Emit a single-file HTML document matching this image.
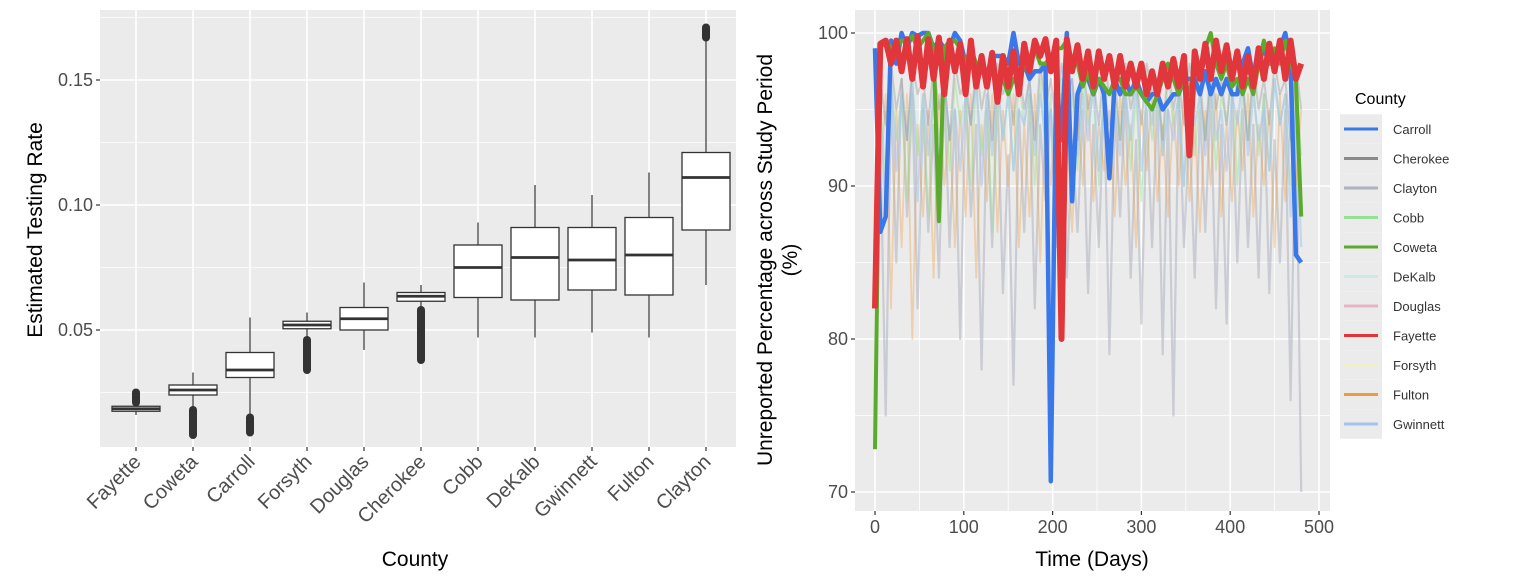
<!DOCTYPE html>
<html><head><meta charset="utf-8"><style>
body{margin:0;background:#fff;}
svg{display:block;font-family:"Liberation Sans",sans-serif;}
</style></head><body>
<svg id="c" width="1522" height="578"></svg>
<script>
// ---------- Left chart data ----------
const counties=["Fayette","Coweta","Carroll","Forsyth","Douglas","Cherokee","Cobb","DeKalb","Gwinnett","Fulton","Clayton"];
const whiskerLo=[0.016,0.019,0.016,0.047,0.042,0.058,0.047,0.047,0.049,0.047,0.068];
const q1=[0.0175,0.024,0.031,0.0505,0.050,0.0615,0.063,0.062,0.066,0.064,0.090];
const median=[0.0185,0.026,0.034,0.052,0.0545,0.0635,0.075,0.079,0.078,0.080,0.111];
const q3=[0.0195,0.028,0.041,0.0535,0.059,0.065,0.084,0.091,0.091,0.095,0.121];
const whiskerHi=[0.021,0.033,0.055,0.057,0.069,0.068,0.093,0.108,0.104,0.113,0.166];
const outLo=[[0.021,0.025],[0.008,0.018],[0.009,0.015],[0.034,0.046],null,[0.038,0.058],null,null,null,null,[0.167,0.171]];
const yTicksL=[0.05,0.10,0.15];
const yTickLabelsL=["0.05","0.10","0.15"];
// ---------- Right chart data ----------
const dayStart=0, dayStep=6, nDays=81;
const fayette=[82,99.3,99.5,98,99.5,97.5,99.6,97,99.8,96.5,99.6,97,99.7,96,99.5,97.5,99.3,96,99.5,96.5,98.5,96.5,98.7,95.5,98.5,96.5,98.8,96,99.3,97.5,99.5,98.5,99.6,97.5,99.5,80,99.6,97.5,99.2,97,98.8,96.5,98.8,97,98.5,96.5,98.5,96.5,98,96.5,98,96,97.5,96,98,96.5,98.3,96.5,98.5,92,98.8,97,99.3,97,99.5,97.5,99.2,97,98.8,96.5,98.5,96.5,99,97,99.3,97.5,99.5,97,99.5,97,98];
const carroll=[99,87,88,99.5,98,100,99,100,99.8,100,100,99,99.5,99,99,100,99.5,98,99,97.5,98,97,98.5,98.5,98.5,98,100,98,98,97,97.5,97.5,98,70.7,97,93,100,89,96,97,97,96,97,96,90.5,97,96,97,96,97,96,95.5,96,96,95,95.5,96,96,97,97,97,96,97.5,96,97,96,97,96,96,98,99,97,98,99,98,98.5,99,100,98,85.5,85];
const coweta=[72.8,99,99.5,99,99,99.5,99.5,99.8,99,99.5,100,99,87.7,99,99.5,99.5,99,98,99,98,97.5,97,98,96.5,97,96,97,96.5,98,98,99,98,98,98.5,99,99,99.5,98,98,96.5,97.5,96,97,96.5,96,97,97,96,96,96.5,96,95.5,95,96,97,98,97,96,97,96,98,97,99,100,98,97,98,96.5,97,96,97,96,98,99.5,98,99,98,99.5,98,97,88];
const clayton=[99,93,75,96,85,97,88,96,82,95,87,94,84,96,86,95,80,96,88,94,78,95,86,96,83,92,77,95,87,96,82,94,89,95,86,96,84,93,87,95,83,94,86,96,79,95,88,96,84,93,81,95,86,96,79,95,75,96,86,94,84,95,87,96,82,94,81,96,85,95,86,94,84,96,83,93,85,95,76,96,70];
const fulton=[99,90,96,82,95,86,96,80,94,88,95,84,96,90,94,86,95,88,96,84,94,89,96,87,95,90,96,86,94,88,96,85,95,90,96,88,94,87,95,90,96,89,94,91,95,88,96,90,94,86,95,91,96,89,94,88,95,90,96,89,94,87,95,90,96,88,94,89,95,91,96,88,94,90,95,86,96,89,94,90,95];
const gwinnett=[99,95,88,97,91,96,93,97,89,96,92,96,90,97,93,95,91,96,94,97,90,96,92,97,93,96,91,95,94,97,92,96,93,95,90,96,94,97,92,96,93,97,91,96,94,95,92,96,93,97,91,96,94,97,92,95,93,96,90,97,94,96,92,97,93,95,91,96,94,97,92,96,93,95,91,97,94,96,88,95,86];
const cherokee=[99,97,94,98,95,97,93,98,96,97,94,98,95,97,93,98,96,97,94,98,95,97,93,98,96,97,94,98,95,97,93,98,95,97,94,98,96,97,93,98,95,97,94,98,96,97,93,98,95,97,94,98,96,97,93,98,95,97,94,98,96,97,93,98,95,97,94,98,96,97,93,98,95,97,94,98,96,97,93,98,95];
const cobb=[99,96,90,97,93,96,89,97,92,96,88,97,93,96,91,97,94,96,90,97,92,96,87,97,93,96,91,97,94,96,90,97,92,96,89,97,93,96,91,97,94,96,90,97,92,96,93,97,91,96,89,97,93,96,92,97,94,96,90,97,92,96,93,97,91,96,94,97,90,96,93,97,92,96,91,97,94,96,90,97,92];
const xTicksR=[0,100,200,300,400,500];
const yTicksR=[70,80,90,100];
const legendNames=["Carroll","Cherokee","Clayton","Cobb","Coweta","DeKalb","Douglas","Fayette","Forsyth","Fulton","Gwinnett"];
const legendColors=["#3a78ea","#8a8a8a","#aeb2c0","#96e096","#5aaa2c","#c6ece6","#e8b4c4","#e0363c","#eef0c6","#ef9a3c","#a4c2f2"];

const NS="http://www.w3.org/2000/svg";
const svg=document.getElementById('c');
function mk(tag,attrs,parent){const e=document.createElementNS(NS,tag);for(const k in attrs)e.setAttribute(k,attrs[k]);(parent||svg).appendChild(e);return e;}

// ---- Left axes ----
const L={x0:100,x1:736,y0:10,y1:447};
const yL=v=>330-(v-0.05)*2500;
const xL=i=>136+i*57;
const gL=mk('g',{});


const bgL=mk('rect',{x:L.x0,y:L.y0,width:L.x1-L.x0,height:L.y1-L.y0,fill:'#ebebeb'},gL);


[0.025,0.075,0.125,0.175].forEach(v=>mk('line',{x1:L.x0,x2:L.x1,y1:yL(v),y2:yL(v),stroke:'#fff','stroke-width':0.8},gL));
yTicksL.forEach((v,i)=>{
  mk('line',{x1:L.x0,x2:L.x1,y1:yL(v),y2:yL(v),stroke:'#fff','stroke-width':1.6},gL);
  mk('line',{x1:L.x0-4,x2:L.x0,y1:yL(v),y2:yL(v),stroke:'#333','stroke-width':1.2},gL);
  const t=mk('text',{x:L.x0-7,y:yL(v)+6,'text-anchor':'end','font-size':18,fill:'#4d4d4d'},gL);
  t.textContent=yTickLabelsL[i];
  
  
});
counties.forEach((c,i)=>{
  const x=xL(i);
  mk('line',{x1:x,x2:x,y1:L.y0,y2:L.y1,stroke:'#fff','stroke-width':1.6},gL);
  mk('line',{x1:x,x2:x,y1:L.y1,y2:L.y1+4,stroke:'#333','stroke-width':1.2},gL);
  const g=mk('g',{},gL);
  
  
  mk('line',{x1:x,x2:x,y1:yL(whiskerLo[i]),y2:yL(whiskerHi[i]),stroke:'#333','stroke-width':1.2},g);
  const w=48;
  mk('rect',{x:x-w/2,y:yL(q3[i]),width:w,height:Math.max(1,yL(q1[i])-yL(q3[i])),fill:'#fff',stroke:'#333','stroke-width':1.3},g);
  mk('line',{x1:x-w/2,x2:x+w/2,y1:yL(median[i]),y2:yL(median[i]),stroke:'#333','stroke-width':2.8},g);
  if(outLo[i]) mk('line',{x1:x,x2:x,y1:yL(outLo[i][0]),y2:yL(outLo[i][1]),stroke:'#333','stroke-width':8,'stroke-linecap':'round'},g);
  const ax=x+6, ay=L.y1+16;
  const t=mk('text',{x:ax,y:ay,'text-anchor':'end','font-size':20,fill:'#4d4d4d',transform:`rotate(-45 ${ax} ${ay})`},gL);
  t.textContent=c;
  
  
});
let t=mk('text',{x:415,y:566,'text-anchor':'middle','font-size':21,fill:'#000'});
t.textContent='County';


t=mk('text',{x:42,y:230,'text-anchor':'middle','font-size':21,fill:'#000',transform:'rotate(-90 42 230)'});
t.textContent='Estimated Testing Rate';



// ---- Right axes ----
const R={x0:855,x1:1330,y0:10,y1:511};
const xR=d=>875+d*0.888;
const yR=v=>33+(100-v)*15.3;
const gR=mk('g',{});


const bgR=mk('rect',{x:R.x0,y:R.y0,width:R.x1-R.x0,height:R.y1-R.y0,fill:'#ebebeb'},gR);


[75,85,95].forEach(v=>mk('line',{x1:R.x0,x2:R.x1,y1:yR(v),y2:yR(v),stroke:'#fff','stroke-width':0.8},gR));
[50,150,250,350,450].forEach(v=>mk('line',{x1:xR(v),x2:xR(v),y1:R.y0,y2:R.y1,stroke:'#fff','stroke-width':0.8},gR));
yTicksR.forEach(v=>{
  mk('line',{x1:R.x0,x2:R.x1,y1:yR(v),y2:yR(v),stroke:'#fff','stroke-width':1.6},gR);
  mk('line',{x1:R.x0-4,x2:R.x0,y1:yR(v),y2:yR(v),stroke:'#333','stroke-width':1.2},gR);
  const tt=mk('text',{x:R.x0-7,y:yR(v)+6,'text-anchor':'end','font-size':18,fill:'#4d4d4d'},gR);
  tt.textContent=String(v);
  
  
});
xTicksR.forEach(v=>{
  mk('line',{x1:xR(v),x2:xR(v),y1:R.y0,y2:R.y1,stroke:'#fff','stroke-width':1.6},gR);
  mk('line',{x1:xR(v),x2:xR(v),y1:R.y1,y2:R.y1+4,stroke:'#333','stroke-width':1.2},gR);
  const tt=mk('text',{x:xR(v),y:R.y1+22,'text-anchor':'middle','font-size':18,fill:'#4d4d4d'},gR);
  tt.textContent=String(v);
  
  
});
function series(vals,color,w,op,name){
  const pts=vals.map((v,i)=>xR(dayStart+i*dayStep).toFixed(1)+','+yR(v).toFixed(1)).join(' ');
  const p=mk('polyline',{points:pts,fill:'none',stroke:color,'stroke-width':w,'stroke-opacity':op,'stroke-linejoin':'round'},gR);
  
  
}
series(clayton,'#aeb2c0',2.2,0.55,'clayton');
series(fulton,'#ef9a3c',1.8,0.35,'fulton');
series(cobb,'#96e096',1.8,0.45,'cobb');
series(gwinnett,'#a4c2f2',2.2,0.55,'gwinnett');
series(cherokee,'#8a8a8a',2,0.35,'cherokee');
series(carroll,'#3a78ea',4.5,1,'carroll');
series(coweta,'#5aaa2c',4,1,'coweta');
series(fayette,'#e0363c',6,1,'fayette');
t=mk('text',{x:1092,y:566,'text-anchor':'middle','font-size':21,fill:'#000'});
t.textContent='Time (Days)';


t=mk('text',{x:772,y:260,'text-anchor':'middle','font-size':21,fill:'#000',transform:'rotate(-90 772 260)'});
t.textContent='Unreported Percentage across Study Period';


t=mk('text',{x:797,y:260,'text-anchor':'middle','font-size':21,fill:'#000',transform:'rotate(-90 797 260)'});
t.textContent='(%)';



// ---- Legend ----
const gLeg=mk('g',{});


t=mk('text',{x:1355,y:104,'font-size':16,fill:'#000'},gLeg);
t.textContent='County';


legendNames.forEach((n,i)=>{
  const y=129+i*29.5;
  const g=mk('g',{},gLeg);
  
  
  mk('rect',{x:1340,y:y-14.75,width:42,height:29.5,fill:'#ebebeb'},g);
  mk('line',{x1:1344,x2:1378,y1:y,y2:y,stroke:legendColors[i],'stroke-width':3},g);
  const tx=mk('text',{x:1393,y:y+5,'font-size':13,fill:'#333'},g);
  tx.textContent=n;
});
</script>
</body></html>
